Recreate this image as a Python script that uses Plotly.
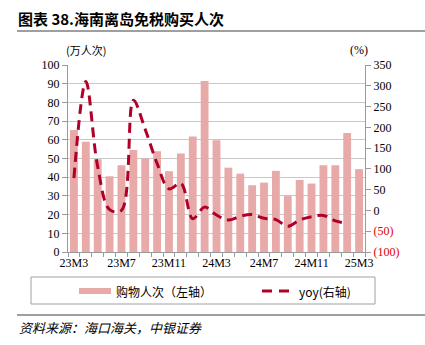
import plotly.graph_objects as go

# Monthly offshore duty-free shopping visits in Hainan (10k person-times) and YoY growth (%)
months = ["23M3", "23M4", "23M5", "23M6", "23M7", "23M8", "23M9", "23M10", "23M11", "23M12",
          "24M1", "24M2", "24M3", "24M4", "24M5", "24M6", "24M7", "24M8", "24M9", "24M10",
          "24M11", "24M12", "25M1", "25M2", "25M3"]
visits = [65.2, 58.9, 49.6, 40.5, 46.4, 54.5, 50.0, 53.9, 43.2, 52.7,
          61.8, 91.4, 59.7, 45.1, 41.9, 35.7, 37.1, 43.4, 29.9, 38.5,
          36.6, 46.4, 46.4, 63.6, 44.3]
yoy = [78, 310, 105, 2, 0, 265, 195, 113, 52, 65,
       -20, 8, -11, -23, -14, -10, -19, -22, -38, -23,
       -15, -12, -25, -31, None]
tick_labels = ["23M3", "23M7", "23M11", "24M3", "24M7", "24M11", "25M3"]
right_ticks = [-100, -50, 0, 50, 100, 150, 200, 250, 300, 350]

BAR_COLOR = "#E8A9A9"
LINE_COLOR = "#B0002A"
GRID = "#C8C8C8"
AXIS = "#9A9A9A"
SERIF = "Liberation Serif, Times New Roman, serif"
CJK = "Noto Sans CJK SC"

x_idx = list(range(len(months)))


def fmt_right(v):
    if v < 0:
        return f"<span style='color:#E00000'>({abs(v)})</span>"
    return str(v)


fig = go.Figure()
fig.add_trace(go.Bar(
    x=x_idx, y=visits, name="购物人次（左轴）",
    marker=dict(color=BAR_COLOR, line=dict(width=0)),
    width=0.66, yaxis="y",
))
fig.add_trace(go.Scatter(
    x=x_idx, y=yoy, name="yoy(右轴)", mode="lines",
    line=dict(color=LINE_COLOR, width=3, dash="10px,6px", shape="spline", smoothing=1.0),
    yaxis="y2", connectgaps=False,
))

fig.update_layout(
    width=425, height=345,
    margin=dict(l=68, r=60, t=65, b=93),
    paper_bgcolor="white", plot_bgcolor="white",
    showlegend=False,
    bargap=0.34,
    font=dict(family=SERIF, size=12, color="#000000"),
    xaxis=dict(
        range=[-0.5, len(months) - 0.5],
        tickmode="array",
        tickvals=[months.index(t) for t in tick_labels],
        ticktext=tick_labels,
        ticks="", showgrid=False, zeroline=False,
        showline=True, linecolor=AXIS, linewidth=1,
        tickfont=dict(family=SERIF, size=12, color="#000000"),
        minor=dict(ticks="outside", tick0=0.5, dtick=1, ticklen=4,
                   tickcolor=AXIS, showgrid=False),
    ),
    yaxis=dict(
        range=[0, 100], dtick=10, tick0=0,
        showgrid=True, gridcolor=GRID, gridwidth=1,
        zeroline=False,
        showline=True, linecolor=AXIS, linewidth=1,
        ticks="outside", ticklen=5, tickcolor=AXIS,
        tickfont=dict(family=SERIF, size=12, color="#000000"),
    ),
    yaxis2=dict(
        range=[-100, 350], overlaying="y", side="right",
        tickmode="array", tickvals=right_ticks,
        ticktext=[fmt_right(v) for v in right_ticks],
        showgrid=False, zeroline=False,
        showline=True, linecolor=AXIS, linewidth=1,
        ticks="outside", ticklen=5, tickcolor=AXIS,
        tickfont=dict(family=SERIF, size=12, color="#000000"),
    ),
)


def px_x(v):
    return (v - 68) / 297


def px_y(v):
    return (252 - v) / 187


# Title and rules
fig.add_annotation(xref="paper", yref="paper", x=px_x(16), y=px_y(18),
                   xanchor="left", yanchor="middle", showarrow=False,
                   text="<b>图表 38.海南离岛免税购买人次</b>",
                   font=dict(family=CJK, size=15, color="#000000"))
fig.add_shape(type="line", xref="paper", yref="paper",
              x0=px_x(17), x1=px_x(425), y0=px_y(31), y1=px_y(31),
              line=dict(color="#404040", width=1.2))

# Axis unit labels
fig.add_annotation(xref="paper", yref="paper", x=px_x(86), y=px_y(50),
                   xanchor="center", yanchor="middle", showarrow=False,
                   text="(万人次)", font=dict(family=CJK, size=11, color="#000000"))
fig.add_annotation(xref="paper", yref="paper", x=px_x(359), y=px_y(50),
                   xanchor="center", yanchor="middle", showarrow=False,
                   text="(%)", font=dict(family=SERIF, size=12, color="#000000"))

# Legend box
fig.add_shape(type="rect", xref="paper", yref="paper",
              x0=px_x(31), x1=px_x(375), y0=px_y(277), y1=px_y(304),
              line=dict(color="#A0A0A0", width=1), fillcolor="white")
fig.add_shape(type="rect", xref="paper", yref="paper",
              x0=px_x(79), x1=px_x(111), y0=px_y(288), y1=px_y(294),
              line=dict(width=0), fillcolor=BAR_COLOR)
fig.add_annotation(xref="paper", yref="paper", x=px_x(114), y=px_y(291),
                   xanchor="left", yanchor="middle", showarrow=False,
                   text="购物人次（左轴）", font=dict(family=CJK, size=12, color="#000000"))
for a, b in [(262, 272), (279, 289)]:
    fig.add_shape(type="line", xref="paper", yref="paper",
                  x0=px_x(a), x1=px_x(b), y0=px_y(291), y1=px_y(291),
                  line=dict(color=LINE_COLOR, width=3))
fig.add_annotation(xref="paper", yref="paper", x=px_x(297), y=px_y(291),
                   xanchor="left", yanchor="middle", showarrow=False,
                   text="yoy(右轴)", font=dict(family=CJK, size=12, color="#000000"))

# Source rule and note
fig.add_shape(type="line", xref="paper", yref="paper",
              x0=px_x(17), x1=px_x(425), y0=px_y(315), y1=px_y(315),
              line=dict(color="#404040", width=1.2))
fig.add_annotation(xref="paper", yref="paper", x=px_x(17), y=px_y(327),
                   xanchor="left", yanchor="middle", showarrow=False,
                   text="资料来源：海口海关，中银证券",
                   font=dict(family=CJK, size=13, color="#000000", style="italic"))

fig.write_html("out.html")
